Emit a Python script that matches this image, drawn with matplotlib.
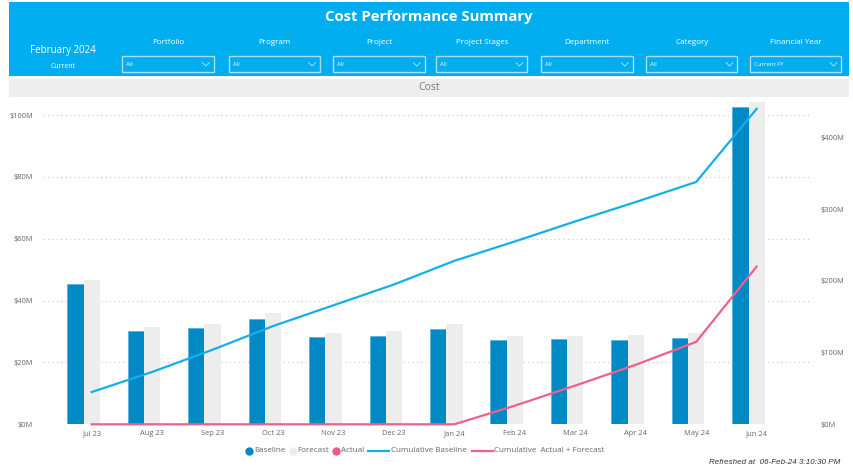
import matplotlib
matplotlib.use("Agg")
import matplotlib.pyplot as plt
from matplotlib.patches import Rectangle
from matplotlib.lines import Line2D
import numpy as np

plt.rcParams['font.family'] = ['Open Sans', 'DejaVu Sans']

# ---------------- data ----------------
months = ["Jul 23", "Aug 23", "Sep 23", "Oct 23", "Nov 23", "Dec 23",
          "Jan 24", "Feb 24", "Mar 24", "Apr 24", "May 24", "Jun 24"]
baseline = [45.2, 30.2, 31.1, 34.1, 28.2, 28.6, 30.8, 27.3, 27.5, 27.4, 27.9, 102.6]
forecast = [46.8, 31.6, 32.5, 36.0, 29.6, 30.1, 32.5, 28.6, 28.7, 28.9, 29.4, 104.2]
actual = [0, 0, 0, 0, 0, 0, 0, 0, 0, 0, 0, 0]
cum_baseline = [45, 73, 104, 137, 166, 195, 228, 255, 283, 310, 338, 440]
cum_actual_forecast = [0, 0, 0, 0, 0, 0, 0, 26, 54, 83, 115, 220]

left_ticks = [0, 20, 40, 60, 80, 100]
right_ticks = [0, 100, 200, 300, 400]

filters = ["Portfolio", "Program", "Project", "Project Stages",
           "Department", "Category", "Financial Year"]
filter_values = ["All", "All", "All", "All", "All", "All", "Current FY"]

# ---------------- colours ----------------
C_BASE = "#0089C4"
C_FC = "#EDEDED"
C_ACT = "#EF5B82"
C_CUMB = "#14AEEE"
C_CUMA = "#F2608A"
C_HDR = "#00ADEE"
C_TXT = "#666666"

W, H = 854, 470
fig = plt.figure(figsize=(W / 100, H / 100), dpi=100)
fig.patch.set_facecolor("white")


def fx(x):
    return x / W


def fy(y):
    return 1 - y / H


# header band
fig.add_artist(Rectangle((fx(9), fy(76)), fx(849) - fx(9), (76 - 2) / H,
                         transform=fig.transFigure, facecolor=C_HDR, edgecolor="none"))
fig.text(fx(429), fy(17), "Cost Performance Summary", color="white",
         fontsize=10.7, fontweight="bold", ha="center", va="center")
fig.text(fx(63), fy(50), "February 2024", color="white", fontsize=7, ha="center", va="center")
fig.text(fx(63), fy(66), "Current", color="white", fontsize=5, ha="center", va="center")

box_left = [122.3, 228.7, 333.3, 436.0, 541.3, 646.0, 750.0]
box_w = 91.5
for name, val, bl in zip(filters, filter_values, box_left):
    fig.text(fx(bl + box_w / 2), fy(43), name, color="white", fontsize=5.8,
             ha="center", va="center")
    fig.add_artist(Rectangle((fx(bl), fy(72)), box_w / W, 16 / H,
                             transform=fig.transFigure, facecolor=C_HDR,
                             edgecolor="#A8DDF6", linewidth=1.0))
    fig.text(fx(bl + 4), fy(64), val, color="white", fontsize=4.3,
             ha="left", va="center")
    cx = bl + box_w - 8
    fig.add_artist(Line2D([fx(cx - 3.5), fx(cx), fx(cx + 3.5)],
                          [fy(62.5), fy(66), fy(62.5)], transform=fig.transFigure,
                          color="#DDF2FC", linewidth=0.5))

# "Cost" band
fig.add_artist(Rectangle((fx(9), fy(97)), fx(849) - fx(9), (97 - 79) / H,
                         transform=fig.transFigure, facecolor="#EEEEEE", edgecolor="none"))
fig.text(fx(429), fy(88), "Cost", color="#777777", fontsize=7.5, ha="center", va="center")

# ---------------- chart ----------------
ax_l, ax_r = 43, 810
ax_t, ax_b = 100, 424.3
ax = fig.add_axes([fx(ax_l), fy(ax_b), (ax_r - ax_l) / W, (ax_b - ax_t) / H])
ax2 = ax.twinx()

px_per_m_left = (424.3 - 115) / 100.0
px_per_m_right = (424.3 - 137.5) / 400.0
ytop_left = (ax_b - ax_t) / px_per_m_left
ytop_right = (ax_b - ax_t) / px_per_m_right

x = np.arange(len(months))
spacing = 60.45
bw = 16.3 / spacing
ax.bar(x - bw, baseline, bw, color=C_BASE, edgecolor="#4FB0DA", linewidth=0.5, zorder=3)
ax.bar(x, forecast, bw, color=C_FC, edgecolor="none", zorder=3)
ax.bar(x + bw, actual, bw, color=C_ACT, edgecolor="none", zorder=3)

ax2.plot(x, cum_baseline, color=C_CUMB, linewidth=1.6, zorder=4, clip_on=False)
ax2.plot(x, cum_actual_forecast, color=C_CUMA, linewidth=1.6, zorder=4, clip_on=False)

xl0 = (ax_l - 91.7) / spacing
xl1 = (ax_r - 91.7) / spacing
ax.set_xlim(xl0, xl1)
ax.set_ylim(0, ytop_left)
ax2.set_ylim(0, ytop_right)

ax.set_yticks(left_ticks)
ax.set_yticklabels([f"${v}M" for v in left_ticks])
ax2.set_yticks(right_ticks)
ax2.set_yticklabels([f"${v}M" for v in right_ticks])
ax.set_xticks(x)
ax.set_xticklabels(months)

for a in (ax, ax2):
    for s in a.spines.values():
        s.set_visible(False)
    a.tick_params(length=0, colors=C_TXT, labelsize=5.4)
ax.tick_params(axis="y", pad=7)
ax2.tick_params(axis="y", pad=7.5)
ax.tick_params(axis="x", pad=4)
ax.grid(axis="y", linestyle=(0, (1, 3)), color="#C8C8C8", linewidth=0.8, zorder=0)
ax.set_axisbelow(True)
ax.patch.set_visible(False)
ax2.patch.set_visible(False)
ax.set_zorder(1)
ax2.set_zorder(2)

# ---------------- legend (manual) ----------------
ly = 451
legend_items = [
    ("dot", C_BASE, 249, 254, "Baseline"),
    ("dot", C_FC, 293, 297.5, "Forecast"),
    ("dot", C_ACT, 336, 341, "Actual"),
    ("line", C_CUMB, (368.3, 389.3), 391, "Cumulative Baseline"),
    ("line", C_CUMA, (471.7, 492.7), 494, "Cumulative  Actual + Forecast"),
]
for kind, col, hx, tx, lab in legend_items:
    if kind == "dot":
        fig.add_artist(Line2D([fx(hx)], [fy(ly)], transform=fig.transFigure,
                              marker="o", markersize=5, color=col, linestyle="none"))
    else:
        fig.add_artist(Line2D([fx(hx[0]), fx(hx[1])], [fy(ly), fy(ly)],
                              transform=fig.transFigure, color=col, linewidth=1.6))
    fig.text(fx(tx), fy(ly), lab, color=C_TXT, fontsize=5.8, ha="left", va="center")

fig.text(fx(840), fy(463), "Refreshed at  06-Feb-24 3:10:30 PM", color="#333333",
         fontsize=5.8, fontstyle="italic", family="Liberation Sans", ha="right", va="center")

fig.savefig("out.png", dpi=100)
